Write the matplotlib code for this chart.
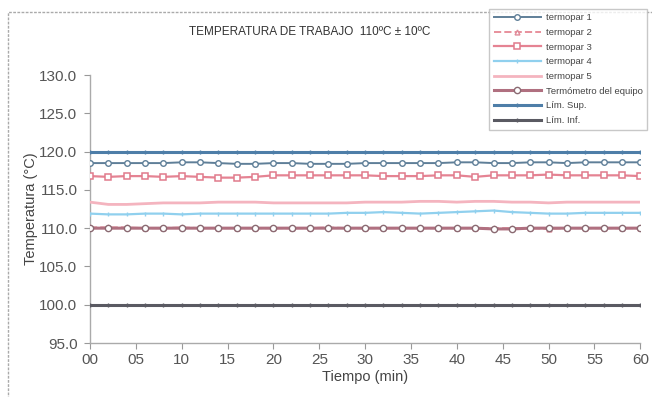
import matplotlib
matplotlib.use("Agg")
import matplotlib.pyplot as plt
from matplotlib.patches import Rectangle

# ---- data ----
tiempo = list(range(0, 61, 2))
termopar1 = [118.5, 118.5, 118.5, 118.5, 118.5, 118.6, 118.6, 118.5, 118.4, 118.4,
             118.5, 118.5, 118.4, 118.4, 118.4, 118.5, 118.5, 118.5, 118.5, 118.5,
             118.6, 118.6, 118.5, 118.5, 118.6, 118.6, 118.5, 118.6, 118.6, 118.6, 118.6]
termopar2 = [110.1, 110.1, 110.1, 110.0, 110.0, 110.1, 110.0, 110.0, 110.0, 110.0,
             110.0, 110.0, 110.0, 110.1, 110.0, 110.0, 110.0, 110.0, 110.0, 110.0,
             110.0, 110.0, 110.0, 110.0, 110.0, 109.9, 110.0, 110.0, 110.0, 110.0, 110.0]
termopar3 = [116.8, 116.7, 116.8, 116.8, 116.7, 116.8, 116.7, 116.6, 116.6, 116.7,
             116.9, 116.9, 116.9, 116.9, 116.9, 116.9, 116.8, 116.8, 116.8, 116.9,
             116.9, 116.7, 116.9, 116.9, 116.9, 117.0, 116.9, 116.9, 116.9, 116.9, 116.8]
termopar4 = [111.9, 111.8, 111.8, 111.9, 111.9, 111.8, 111.9, 111.9, 111.9, 111.9,
             111.9, 111.9, 111.9, 111.9, 112.0, 112.0, 112.1, 112.0, 111.9, 112.0,
             112.1, 112.2, 112.3, 112.1, 112.0, 111.9, 111.9, 112.0, 112.0, 112.0, 112.0]
termopar5 = [113.4, 113.1, 113.1, 113.2, 113.3, 113.3, 113.3, 113.4, 113.4, 113.4,
             113.3, 113.3, 113.3, 113.3, 113.3, 113.4, 113.4, 113.4, 113.5, 113.5,
             113.4, 113.5, 113.5, 113.4, 113.4, 113.3, 113.4, 113.4, 113.4, 113.4, 113.4]
termometro = [110.0, 110.0, 110.0, 110.0, 110.0, 110.0, 110.0, 110.0, 110.0, 110.0,
              110.0, 110.0, 110.0, 110.0, 110.0, 110.0, 110.0, 110.0, 110.0, 110.0,
              110.0, 110.0, 109.9, 109.9, 110.0, 110.0, 110.0, 110.0, 110.0, 110.0, 110.0]
lim_sup = [120.0] * 31
lim_inf = [100.0] * 31

series_labels = ["termopar 1", "termopar 2", "termopar 3", "termopar 4", "termopar 5",
                 "Termómetro del equipo", "Lím. Sup.", "Lím. Inf."]
xticks = list(range(0, 61, 5))
xticklabels = ["00", "05", "10", "15", "20", "25", "30", "35", "40", "45", "50", "55", "60"]
yticks = [95.0, 100.0, 105.0, 110.0, 115.0, 120.0, 125.0, 130.0]
title = "TEMPERATURA DE TRABAJO  110ºC ± 10ºC"

plt.rcParams['font.family'] = ['Liberation Sans', 'DejaVu Sans']

fig = plt.figure(figsize=(6.52, 3.97), dpi=100)
ax = fig.add_axes([0.138, 0.136, 0.844, 0.675])

txt = "#444444"
ax.plot(tiempo, lim_inf, color="#5a5a62", lw=2.2, marker="|", ms=3, zorder=3)
ax.plot(tiempo, termometro, color="#b07080", lw=2.2, marker="o", ms=4.5,
        mfc="white", mec="#8a6a72", mew=1.0, zorder=4)
ax.plot(tiempo, termopar2, color="#e8909c", lw=1.4, ls="--", marker="^", ms=3.5,
        mfc="white", mec="#e08a98", zorder=3)
ax.plot(tiempo, termopar4, color="#90d0ee", lw=1.6, marker="|", ms=3, zorder=3)
ax.plot(tiempo, termopar5, color="#f4b4bf", lw=2.0, zorder=3)
ax.plot(tiempo, termopar3, color="#e58393", lw=1.6, marker="s", ms=5,
        mfc="white", mec="#e07a8c", mew=1.1, zorder=3)
ax.plot(tiempo, termopar1, color="#5f7f98", lw=1.4, marker="o", ms=4,
        mfc="white", mec="#5f7f98", mew=1.0, zorder=4)
ax.plot(tiempo, lim_sup, color="#4e7ea8", lw=2.2, marker="|", ms=3, zorder=3)

# legend handles (in legend order)
handles = ax.get_lines()
order = [6, 2, 5, 3, 4, 1, 7, 0]
leg_h = [handles[i] for i in order]
fig.legend(leg_h, series_labels, loc="upper right", bbox_to_anchor=(1.0, 0.99),
           fontsize=6.8, frameon=True, fancybox=False, edgecolor="#bbbbbb",
           handlelength=5, labelspacing=0.6, borderpad=0.5, handletextpad=0.5,
           labelcolor=txt)

ax.set_xlim(0, 60)
ax.set_ylim(95, 130)
ax.set_xticks(xticks)
ax.set_xticklabels(xticklabels)
ax.set_yticks(yticks)
ax.set_yticklabels([f"{v:.1f}" for v in yticks])
ax.tick_params(axis="both", labelsize=11, colors="#999999", labelcolor="#555555",
               length=4, direction="out")
ax.tick_params(axis="x", pad=3)
ax.tick_params(axis="y", pad=5)
for s in ["top", "right"]:
    ax.spines[s].set_visible(False)
for s in ["left", "bottom"]:
    ax.spines[s].set_color("#aaaaaa")
    ax.spines[s].set_linewidth(1.0)

ax.set_xlabel("Tiempo (min)", fontsize=10.5, color="#444444", labelpad=2)
ax.set_ylabel("Temperatura (°C)", fontsize=10.5, color="#444444", labelpad=1)
fig.text(0.475, 0.92, title, fontsize=8.5, color="#333333", ha="center", va="center")

# outer chart border
fig.patches.append(Rectangle((0.012, -0.01), 1.2, 0.98, transform=fig.transFigure,
                             fill=False, edgecolor="#aaaaaa", lw=1.0, ls=(0, (2, 1))))

fig.savefig("out.png", dpi=100, facecolor="white")
